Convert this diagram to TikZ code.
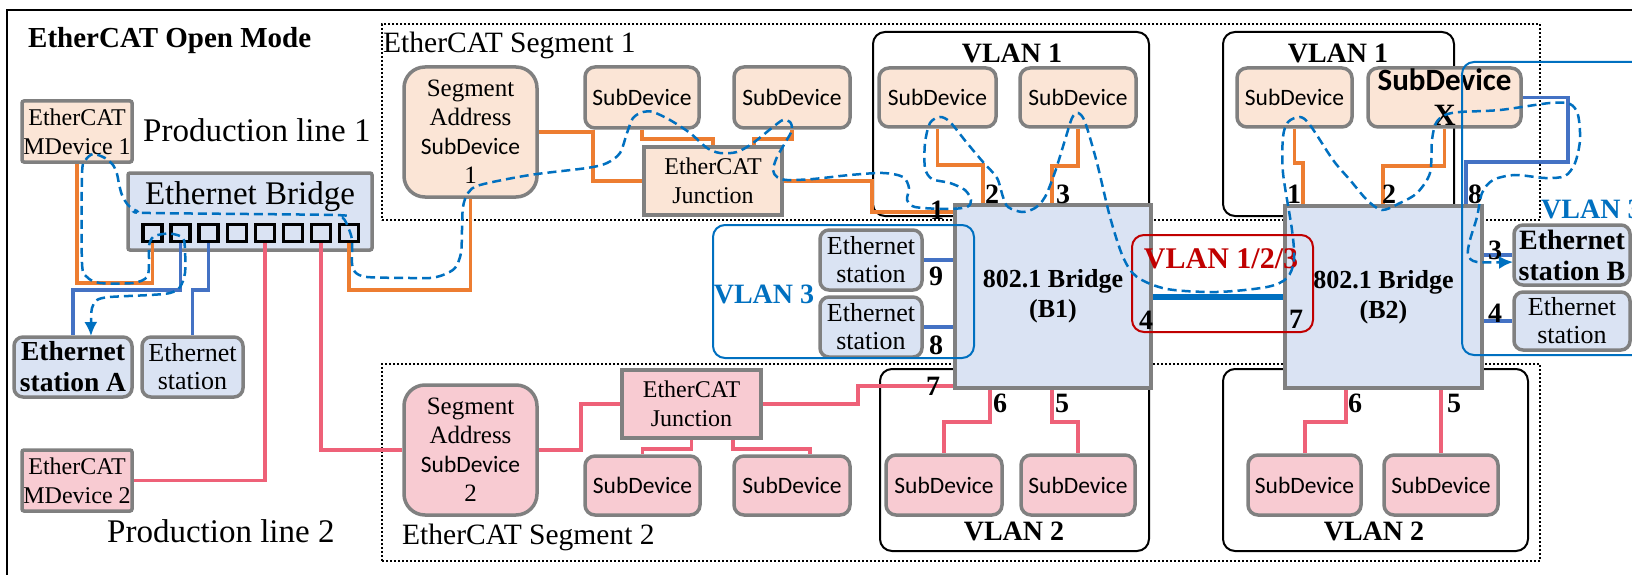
\documentclass[tikz,border=0pt]{standalone}
\usepackage{fontspec}
\setmainfont{Liberation Serif}
\newfontfamily\sdfam{Carlito}
\usetikzlibrary{arrows.meta}
\definecolor{peachf}{HTML}{FBE5D6}
\definecolor{pinkf}{HTML}{F8CBD2}
\definecolor{bluef}{HTML}{DAE3F3}
\definecolor{gborder}{HTML}{808080}
\definecolor{orangew}{HTML}{ED7D31}
\definecolor{pinkw}{HTML}{EE6178}
\definecolor{bluew}{HTML}{4472C4}
\definecolor{dblue}{HTML}{0070C0}
\definecolor{dred}{HTML}{C00000}
\newcommand\fs[2]{\fontsize{#1}{#2}\selectfont}
\tikzset{
  bx/.style={draw=gborder, line width=3.5pt, inner sep=0pt, align=center},
  sz/.style 2 args={minimum width=#1pt, minimum height=#2pt},
  sdev/.style={bx, rounded corners=10pt, font=\sdfam\fs{23.5}{28}},
  stn/.style={bx, fill=bluef, rounded corners=9pt, font=\fs{26}{28}},
  stnb/.style={bx, fill=bluef, rounded corners=9pt, font=\bfseries\fs{27.5}{31}},
  port/.style={draw=black, line width=3.5pt, fill=bluef, minimum width=19pt, minimum height=17pt, inner sep=0pt},
  ow/.style={draw=orangew, line width=3.5pt},
  pw/.style={draw=pinkw, line width=3.5pt},
  bw/.style={draw=bluew, line width=3.5pt},
  vlanbox/.style={draw=black, line width=2pt, rounded corners=12pt, inner sep=0pt},
  segbox/.style={draw=black, line width=1.6pt, dash pattern=on 1.6pt off 2.4pt, inner sep=0pt},
  txt/.style={inner sep=0pt},
  vl/.style={txt, font=\bfseries\fs{28}{28}},
  num/.style={txt, font=\bfseries\fs{28}{28}},
  flow/.style={draw=dblue, line width=2.5pt, dash pattern=on 9pt off 5pt},
}
\begin{document}
\begin{tikzpicture}[x=1pt, y=-1pt]
\useasboundingbox (0,0) rectangle (1632,575);
\clip (0,0) rectangle (1632,575);
\fill[white] (0,0) rectangle (1632,575);
% outer frame
\draw[line width=2pt] (7,10) rectangle (1700,640);
% segments
\node[segbox, sz={1158}{196}] (seg1) at (961,122) {};
\node[segbox, sz={1158}{197}] (seg2) at (961,462.5) {};
% VLAN 1 / 2 frames
\node[vlanbox, sz={276}{184}] (v1a) at (1011,124) {};
\node[vlanbox, sz={231}{184}] (v1b) at (1338.5,124) {};
\node[vlanbox, sz={269}{182}] (v2a) at (1014.5,460) {};
\node[vlanbox, sz={305}{182}] (v2b) at (1375.5,460) {};

% nodes left
\node[bx, fill=peachf, rounded corners=2pt, sz={110}{61}, font=\fs{24}{29}] (md1) at (77,131.5) {EtherCAT\\MDevice 1};
\node[bx, fill=pinkf, rounded corners=2pt, sz={110}{61}, font=\fs{24}{29}] (md2) at (77,480.5) {EtherCAT\\MDevice 2};
\node[bx, fill=bluef, rounded corners=2pt, sz={244}{77}] (ebr) at (250,211.5) {};
\node[txt, anchor=base, font=\fs{33}{33}] (ebrt) at (250,204) {Ethernet Bridge};
\foreach \i in {1,...,8} \node[port] (p\i) at ({152.5+28.1*(\i-1)},233) {};
\node[stnb, sz={118}{60}] (stA) at (73,367) {Ethernet\\station A};
\node[stn, sz={101}{60}] (st1) at (192.5,367) {Ethernet\\station};

% segment 1
\node[bx, fill=peachf, rounded corners=21pt, sz={133}{130}, font=\fs{25}{29}] (sa1) at (470.5,132) {Segment\\Address\\{\sdfam\fontsize{23.5}{29}\selectfont SubDevice}\\1};
\node[sdev, fill=peachf, sz={114}{61}] (s1a) at (642,97.5) {SubDevice};
\node[sdev, fill=peachf, sz={116}{61}] (s1b) at (792,97.5) {SubDevice};
\node[bx, fill=peachf, sz={138}{68}, font=\fs{24}{29}] (j1) at (713,181) {EtherCAT\\Junction};

% segment 2
\node[bx, fill=pinkf, rounded corners=21pt, sz={133}{130}, font=\fs{25}{29}] (sa2) at (470.5,450) {Segment\\Address\\{\sdfam\fontsize{23.5}{29}\selectfont SubDevice}\\2};
\node[bx, fill=pinkf, sz={139}{68}, font=\fs{24}{29}] (j2) at (691.5,404) {EtherCAT\\Junction};
\node[sdev, fill=pinkf, sz={115}{59}] (s2a) at (642.5,485.5) {SubDevice};
\node[sdev, fill=pinkf, sz={116}{59}] (s2b) at (792,485.5) {SubDevice};

% VLAN subdevices
\node[sdev, fill=peachf, sz={117}{59}] (v1s1) at (937.5,97.5) {SubDevice};
\node[sdev, fill=peachf, sz={116}{59}] (v1s2) at (1078,97.5) {SubDevice};
\node[sdev, fill=peachf, sz={115}{59}] (v1s3) at (1294.5,97.5) {SubDevice};
\node[sdev, fill=peachf, sz={153}{59}, font=\sdfam\bfseries\fs{31}{35}] (sdX) at (1444.5,97.5) {SubDevice\\{\rmfamily X}};
\node[sdev, fill=pinkf, sz={116}{60}] (v2s1) at (944,485) {SubDevice};
\node[sdev, fill=pinkf, sz={114}{60}] (v2s2) at (1078,485) {SubDevice};
\node[sdev, fill=pinkf, sz={113}{60}] (v2s3) at (1304.5,485) {SubDevice};
\node[sdev, fill=pinkf, sz={114}{60}] (v2s4) at (1441,485) {SubDevice};

% bridges
\node[bx, fill=bluef, sz={196}{183}, font=\bfseries\fs{26}{30}] (b1) at (1053,296.5) {802.1 Bridge\\(B1)};
\node[bx, fill=bluef, sz={197}{182}, font=\bfseries\fs{26}{30}] (b2) at (1383.5,297) {802.1 Bridge\\(B2)};

% stations VLAN 3
\node[stn, sz={102}{60}] (st9) at (871,260) {Ethernet\\station};
\node[stn, sz={102}{60}] (st8) at (871,327) {Ethernet\\station};
\node[stnb, sz={116}{60}, font=\bfseries\fs{28}{31}] (stB) at (1572,255) {Ethernet\\station B};
\node[stn, sz={116}{58}] (st4) at (1572,321) {Ethernet\\station};

% wires left
\draw[ow] (md1.south) -- (md1.south |- 0,283) -| (p1.south);
\draw[bw] (p2.south) -- (p2.south |- 0,290) -| (stA.north);
\draw[bw] (p3.south) -- (p3.south |- 0,290) -| (st1.north);
\draw[pw] (p5.south) |- (md2.east);
\draw[pw] (p7.south) |- (sa2.west);
\draw[ow] (p8.south) -- (p8.south |- 0,290) -| (sa1.south);
% wires segment 1
\draw[ow] (sa1.east) -- ++(54,0) |- (j1.west);
\draw[ow] (s1a.south) -- ++(0,9) -| (j1.north);
\draw[ow] (s1b.south) -- ++(0,9) -| ([xshift=41pt]j1.north);
\draw[ow] (j1.east) -| (872,212) -- (b1.west |- 0,212);
% wires segment 2
\draw[pw] (sa2.east) -- ++(42,0) |- (j2.west);
\draw[pw] (j2.south) -- ++(0,9) -| (s2a.north);
\draw[pw] ([xshift=41.5pt]j2.south) -- ++(0,9) -| ([xshift=18pt]s2b.north);
\draw[pw] (j2.east) -| (858,386) -- (b1.west |- 0,386);
% wires VLAN 1
\draw[ow] (v1s1.south) |- (983,165) -- (b1.north -| 983,0);
\draw[ow] (v1s2.south) |- (1052,166) -- (b1.north -| 1052,0);
\draw[ow] (v1s3.south) |- (1303,163) -- (b2.north -| 1303,0);
\draw[ow] (sdX.south) |- (1383,166) -- (b2.north -| 1383,0);
\draw[bw] (sdX.east) -| (1568,162) -| (b2.north -| 1466,0);
% wires VLAN 2
\draw[pw] (b1.south -| 990,0) |- (944,422) -- (v2s1.north);
\draw[pw] (b1.south -| 1052,0) |- (1078,422) -- (v2s2.north);
\draw[pw] (b2.south -| 1346,0) |- (1305,422) -- (v2s3.north -| 1305,0);
\draw[pw] (b2.south -| 1441,0) -- (v2s4.north);
% wires VLAN 3
\draw[bw] (st9.east) -- (b1.west |- st9.east);
\draw[bw] (st8.east) -- (b1.west |- st8.east);
\draw[bw] (b2.east |- stB.west) -- (stB.west);
\draw[bw] (b2.east |- st4.west) -- (st4.west);
% trunk
\draw[dblue, line width=6pt] (b1.east |- 0,297) -- (b2.west |- 0,297);

% VLAN 3 and 1/2/3 frames (over bridges)
\node[vlanbox, draw=dblue, sz={261}{133}] (v3l) at (843.5,291.5) {};
\node[vlanbox, draw=dblue, sz={198}{293}] (v3r) at (1561,208.5) {};
\node[vlanbox, draw=dred, sz={181}{97}] (v123) at (1222.5,283.5) {};

% texts
\node[txt, anchor=base west, font=\bfseries\fs{29}{30}] (title) at (28,48) {EtherCAT Open Mode};
\node[txt, anchor=base west, font=\fs{33}{33}] (pl1) at (143,141) {Production line 1};
\node[txt, anchor=base west, font=\fs{33}{33}] (pl2) at (107,542) {Production line 2};
\node[txt, anchor=base west, font=\fs{29.5}{30}] (sg1t) at (383,53) {EtherCAT Segment 1};
\node[txt, anchor=base west, font=\fs{29.5}{30}] (sg2t) at (402,544) {EtherCAT Segment 2};
\node[vl, anchor=base] (v1at) at (1012,63) {VLAN 1};
\node[vl, anchor=base] (v1bt) at (1338,63) {VLAN 1};
\node[vl, anchor=base] (v2at) at (1014,540) {VLAN 2};
\node[vl, anchor=base] (v2bt) at (1374,540) {VLAN 2};
\node[vl, anchor=base, text=dblue] (v3lt) at (764,303) {VLAN 3};
\node[vl, anchor=base west, text=dblue] (v3rt) at (1541,218) {VLAN 3};
\node[txt, anchor=base, font=\bfseries\fs{30}{30}, text=dred] (v123t) at (1221,268) {VLAN 1/2/3};

% port numbers
\node[num] (n1a) at (937,210) {1};
\node[num] (n2a) at (992,194) {2};
\node[num] (n3a) at (1063,194) {3};
\node[num] (n9a) at (936,276) {9};
\node[num] (n8a) at (936,345) {8};
\node[num] (n4a) at (1146,320) {4};
\node[num] (n7a) at (933,386) {7};
\node[num] (n6a) at (1000,403) {6};
\node[num] (n5a) at (1062,403) {5};
\node[num] (n1b) at (1294,194) {1};
\node[num] (n2b) at (1389,194) {2};
\node[num] (n8b) at (1475,194) {8};
\node[num] (n3b) at (1495,250) {3};
\node[num] (n4b) at (1495,313) {4};
\node[num] (n7b) at (1296,319) {7};
\node[num] (n6b) at (1355,403) {6};
\node[num] (n5b) at (1454,403) {5};

% frame flow (dashed)
\draw[flow, {Latex[length=14pt,width=13pt]}-{Latex[length=14pt,width=13pt]}] plot[smooth, tension=0.5] coordinates {
(91,336) (91,322) (92,308) (97,300) (110,297) (150,295) (170,293) (180,287) (185,273) (185,250) (183,238) (173,234) (163,234) (153,237) (149,246) (149,263) (147,277) (133,283) (100,283) (87,277) (82,263) (82,175) (85,161) (93,154) (105,158) (113,165) (117,174) (119,184) (122,195) (128,205) (137,211) (150,213) (333,215) (343,218) (348,227) (352,240) (352,263) (355,272) (367,277) (410,278) (430,278) (443,275) (455,268) (461,253) (462,230) (463,207) (468,193) (480,185) (530,175) (587,168) (607,163) (620,153) (627,133) (633,118) (643,112) (653,112) (670,120) (690,133) (707,148) (720,153) (737,152) (753,143) (773,127) (783,120) (790,122) (792,130) (785,143) (777,157) (773,170) (777,177) (787,180) (813,179) (850,175) (883,173) (903,177) (909,188) (907,200) (915,207) (947,209) (967,207) (971,200) (965,190) (950,183) (932,179) (925,168) (925,143) (930,123) (940,117) (950,122) (967,143) (983,162) (997,178) (1003,197) (1008,207) (1022,212) (1035,208) (1045,197) (1055,172) (1065,140) (1072,118) (1078,113) (1085,122) (1097,163) (1110,217) (1123,257) (1137,277) (1167,289) (1217,292) (1267,287) (1287,278) (1294,260) (1292,230) (1283,173) (1283,137) (1288,122) (1300,117) (1310,125) (1333,160) (1350,180) (1367,200) (1382,210) (1400,203) (1417,193) (1430,173) (1432,140) (1436,123) (1445,115) (1460,112) (1500,110) (1550,103) (1570,104) (1578,115) (1580,140) (1575,163) (1565,176) (1545,178) (1515,175) (1493,180) (1482,193) (1477,217) (1470,240) (1468,255) (1477,262) (1513,262)};
\end{tikzpicture}
\end{document}
